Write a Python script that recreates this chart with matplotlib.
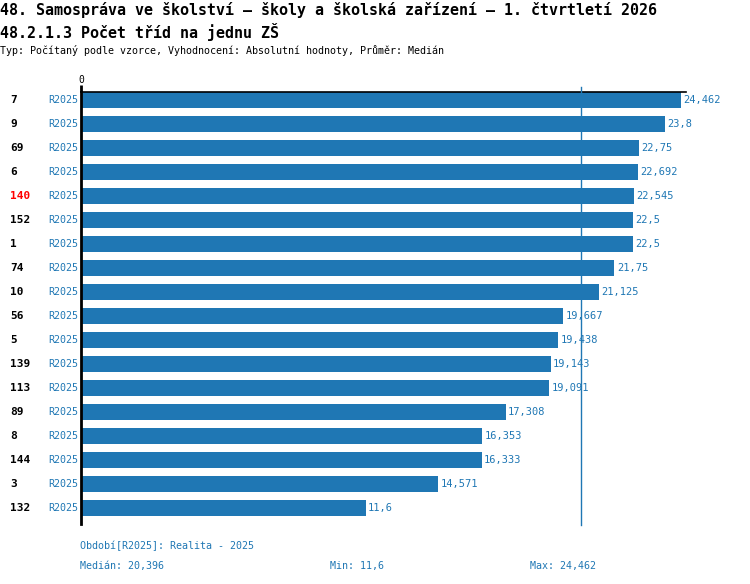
import matplotlib
matplotlib.use("Agg")
import matplotlib.pyplot as plt
import matplotlib.transforms as mtransforms
import numpy as np

categories = ["7", "9", "69", "6", "140", "152", "1", "74", "10", "56", "5",
              "139", "113", "89", "8", "144", "3", "132"]
values = [24.462, 23.8, 22.75, 22.692, 22.545, 22.5, 22.5, 21.75, 21.125,
          19.667, 19.438, 19.143, 19.091, 17.308, 16.353, 16.333, 14.571, 11.6]
period_label = "R2025"
highlight = "140"

title1 = "48. Samospráva ve školství – školy a školská zařízení – 1. čtvrtletí 2026"
title2 = "48.2.1.3 Počet tříd na jednu ZŠ"
subtitle = "Typ: Počítaný podle vzorce, Vyhodnocení: Absolutní hodnoty, Průměr: Medián"
footer1 = "Období[R2025]: Realita - 2025"

def fmt(v):
    return f"{v:g}".replace(".", ",")

median = float(np.median(values))
vmin = min(values)
vmax = max(values)

W, H = 750, 584
BLUE = "#1f77b4"
plt.rcParams['font.family'] = ['DejaVu Sans Mono', 'DejaVu Sans']

fig = plt.figure(figsize=(W / 100, H / 100), dpi=100)

def fx(px):
    return px / W

def fy(py):
    return 1 - py / H

left_px, right_px, top_px, bot_px = 81, 686, 92, 524
ax = fig.add_axes([fx(left_px), fy(bot_px), fx(right_px - left_px), (bot_px - top_px) / H])

n = len(categories)
ypos = np.arange(n)
ax.barh(ypos, values, height=0.667, color=BLUE, zorder=2)
ax.set_xlim(0, vmax * (right_px - left_px) / (681 - left_px))
ax.set_ylim(n - 0.333, -0.333)

for s in ("right", "bottom"):
    ax.spines[s].set_visible(False)
ax.spines["left"].set_linewidth(2)
ax.spines["left"].set_color("black")
ax.spines["top"].set_linewidth(1.2)
ax.spines["top"].set_color("black")
ax.set_yticks([])
ax.xaxis.tick_top()
ax.set_xticks([0])
ax.set_xticklabels(["0"])
ax.tick_params(axis="x", length=5, width=2, color="black", labelsize=7, pad=0)

ax.axvline(median, ymin=-0.002, ymax=1 + 5 / (bot_px - top_px), color=BLUE, lw=1, clip_on=False, zorder=3)

for i, v in enumerate(values):
    ax.text(v + 0.1, i, fmt(v), color=BLUE, fontsize=7.5, va="center", ha="left")

trans = mtransforms.blended_transform_factory(fig.transFigure, ax.transData)
for i, c in enumerate(categories):
    ax.text(fx(10), i, c, transform=trans, fontsize=8, fontweight="bold",
            color="red" if c == highlight else "black", va="center", ha="left")
    ax.text(fx(78), i, period_label, transform=trans, fontsize=7.2,
            color=BLUE, va="center", ha="right")

fig.text(fx(0), fy(10), title1, fontsize=10.8, fontweight="bold", va="center", ha="left")
fig.text(fx(0), fy(32), title2, fontsize=10.8, fontweight="bold", va="center", ha="left")
fig.text(fx(0), fy(50), subtitle, fontsize=7.2, va="center", ha="left")

fig.text(fx(80), fy(546), footer1, fontsize=7.2, color=BLUE, va="center", ha="left")
fig.text(fx(80), fy(566), "Medián: " + fmt(round(median, 3)), fontsize=7.2, color=BLUE, va="center", ha="left")
fig.text(fx(330), fy(566), "Min: " + fmt(vmin), fontsize=7.2, color=BLUE, va="center", ha="left")
fig.text(fx(530), fy(566), "Max: " + fmt(vmax), fontsize=7.2, color=BLUE, va="center", ha="left")

fig.savefig("out.png", dpi=100)
